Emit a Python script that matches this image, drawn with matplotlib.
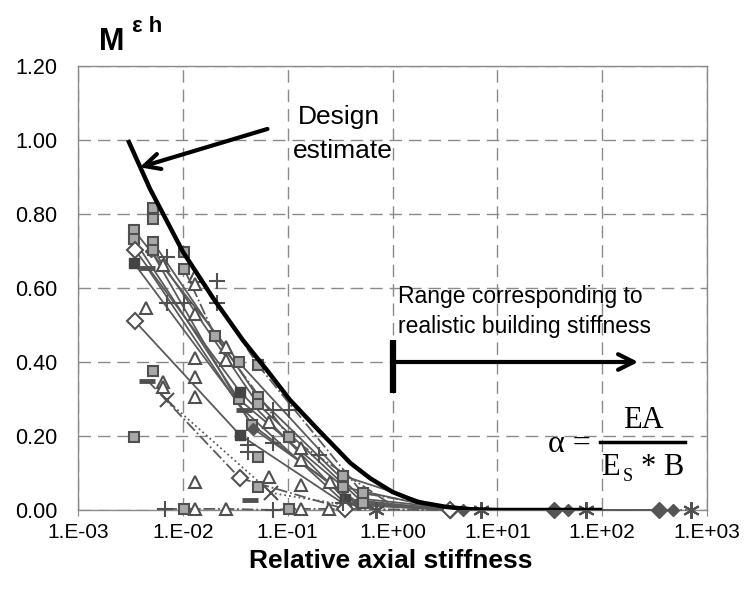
import matplotlib
matplotlib.use('Agg')
import matplotlib.pyplot as plt

plt.rcParams['font.family'] = ['Liberation Sans', 'DejaVu Sans']

# ---------------- data ----------------
x_ticks = [1e-3, 1e-2, 1e-1, 1e0, 1e1, 1e2, 1e3]
x_tick_labels = ["1.E-03", "1.E-02", "1.E-01", "1.E+00", "1.E+01", "1.E+02", "1.E+03"]
y_ticks = [0.0, 0.2, 0.4, 0.6, 0.8, 1.0, 1.2]
y_tick_labels = ["0.00", "0.20", "0.40", "0.60", "0.80", "1.00", "1.20"]

# design estimate curve
design_x = [0.0030, 0.00486, 0.01006, 0.0194, 0.0374, 0.0634, 0.1055, 0.1905, 0.3965, 0.61,
            0.996, 1.72, 3.31, 5.6, 10.0, 100.0]
design_y = [1.000, 0.868, 0.697, 0.573, 0.459, 0.378, 0.297, 0.220, 0.127, 0.086,
            0.049, 0.022, 0.008, 0.002, 0.0, 0.0]

# connected series: x, y, per-point marker code, line style
# codes: S grey square, Q dark square, D open diamond, K dark diamond, k small dark diamond,
#        T open triangle, P plus, X cross, A asterisk, M dash, N none
s1_x = [0.0034, 0.034, 0.34, 3.4];  s1_y = [0.757, 0.40, 0.092, 0.0];  s1_m = "SSSN"
s2_x = [0.0034, 0.034, 0.34, 3.4];  s2_y = [0.732, 0.30, 0.062, 0.0];  s2_m = "SSSN"
s3_x = [0.0035, 0.035, 0.35, 3.5, 35, 350];  s3_y = [0.703, 0.32, 0.03, 0.0, 0.0, 0.0];  s3_m = "DQQKKK"
s4_x = [0.0034, 0.038, 0.35, 3.5];  s4_y = [0.668, 0.27, 0.02, 0.0];  s4_m = "QMQN"
s5_x = [0.0046, 0.046, 0.46, 4.6];  s5_y = [0.654, 0.23, 0.015, 0.0];  s5_m = "MSNN"
s6_x = [0.005, 0.047, 0.47, 4.7, 47, 470];  s6_y = [0.70, 0.22, 0.02, 0.0, 0.0, 0.0];  s6_m = "kkkkkk"
s7_x = [0.0052, 0.052, 0.52, 5.2];  s7_y = [0.724, 0.305, 0.03, 0.0];  s7_m = "SSSN"
s8_x = [0.0052, 0.052, 0.52, 5.2];  s8_y = [0.703, 0.286, 0.02, 0.0];  s8_m = "SSSN"
s9_x = [0.0035, 0.035, 0.35, 3.5];  s9_y = [0.51, 0.203, 0.015, 0.0];  s9_m = "DQQN"
s10_x = [0.0046, 0.035, 0.35, 3.5];  s10_y = [0.35, 0.086, 0.003, 0.0];  s10_m = "MDDD"
s11_x = [0.007, 0.07, 0.7, 7, 70, 700];  s11_y = [0.297, 0.046, 0.0, 0.0, 0.0, 0.0];  s11_m = "XXAAAA"
s12_x = [0.0103, 0.052, 0.52, 5.2];  s12_y = [0.697, 0.392, 0.045, 0.0];  s12_m = "SSSN"
s13_x = [0.0103, 0.0203, 0.103, 1.03, 10];  s13_y = [0.651, 0.47, 0.197, 0.01, 0.0];  s13_m = "SSSNN"
s14_x = [0.0068, 0.0103, 0.013, 0.026, 0.073, 0.103, 0.134, 0.25, 0.5]
s14_y = [0.003, 0.003, 0.003, 0.003, 0.0, 0.003, 0.003, 0.003, 0.0];  s14_m = "PSTTPSTTN"

# scattered (unconnected) points
sq_x = [0.0052, 0.0052, 0.0034, 0.0052, 0.052, 0.052]
sq_y = [0.816, 0.786, 0.197, 0.376, 0.143, 0.062]
tri_x = [0.0045, 0.0065, 0.0065, 0.0065, 0.013, 0.013, 0.013, 0.013, 0.013, 0.013, 0.013,
         0.026, 0.026, 0.066, 0.066, 0.134, 0.134, 0.134, 0.254]
tri_y = [0.546, 0.662, 0.345, 0.332, 0.632, 0.61, 0.53, 0.41, 0.36, 0.305, 0.076,
         0.44, 0.405, 0.238, 0.089, 0.168, 0.135, 0.068, 0.076]
plus_x = [0.0071, 0.0071, 0.0103, 0.021, 0.021, 0.042, 0.042, 0.073, 0.073, 0.103, 0.2, 0.34]
plus_y = [0.684, 0.56, 0.56, 0.62, 0.56, 0.176, 0.157, 0.27, 0.18, 0.27, 0.148, 0.02]
dash_x = [0.044]
dash_y = [0.027]

# ---------------- styles ----------------
LC = '#5a5a5a'
EC = '#505050'
mstyle = {
    'S': dict(marker='s', ms=7, mfc='#a8a8a8', mec=EC, mew=1.5),
    'Q': dict(marker='s', ms=7, mfc='#444444', mec='#444444', mew=1.0),
    'D': dict(marker='D', ms=8, mfc='white', mec=EC, mew=1.5),
    'K': dict(marker='D', ms=8, mfc='#555555', mec='#555555', mew=1.0),
    'k': dict(marker='D', ms=6, mfc='#555555', mec='#555555', mew=1.0),
    'T': dict(marker='^', ms=8, mfc='white', mec=EC, mew=1.5),
    'P': dict(marker='+', ms=12, mec=EC, mew=1.5),
    'X': dict(marker='x', ms=10, mec=EC, mew=1.5),
    'A': dict(marker=(6, 2, 0), ms=12, mec=EC, mew=1.5),
    'M': dict(marker='_', ms=12, mec=EC, mew=3.5),
}

series = [
    (s1_x, s1_y, s1_m, '-'), (s2_x, s2_y, s2_m, '-'), (s3_x, s3_y, s3_m, '-'),
    (s4_x, s4_y, s4_m, '-'), (s5_x, s5_y, s5_m, '-'), (s6_x, s6_y, s6_m, '-'),
    (s7_x, s7_y, s7_m, '-'), (s8_x, s8_y, s8_m, '-'), (s9_x, s9_y, s9_m, '-'),
    (s10_x, s10_y, s10_m, '-.'), (s11_x, s11_y, s11_m, ':'), (s12_x, s12_y, s12_m, '-.'),
    (s13_x, s13_y, s13_m, '-.'), (s14_x, s14_y, s14_m, '-.'),
]

W, H = 747, 598
fig = plt.figure(figsize=(W / 100, H / 100), dpi=100)
ax = fig.add_axes([78 / W, (H - 510) / H, (707 - 78) / W, (510 - 66) / H])

ax.set_xscale('log')
ax.set_xlim(1e-3, 1e3)
ax.set_ylim(0, 1.2)

ax.grid(True, which='major', linestyle=(0, (9, 5)), color='#8a8a8a', lw=1.0)
ax.set_axisbelow(True)
ax.minorticks_off()
for sp in ax.spines.values():
    sp.set_color('#8a8a8a')
    sp.set_linewidth(1.0)

ax.set_xticks(x_ticks)
ax.set_xticklabels(x_tick_labels, fontsize=15)
ax.set_yticks(y_ticks)
ax.set_yticklabels(y_tick_labels, fontsize=15.5)
ax.tick_params(axis='x', length=4, color='#8a8a8a', pad=5)
ax.tick_params(axis='y', length=0, pad=15)

# connected series
for xs, ys, ms, ls in series:
    ax.plot(xs, ys, ls=ls, color=LC, lw=1.3, clip_on=False, zorder=3)
    for xv, yv, c in zip(xs, ys, ms):
        if c == 'N':
            continue
        ax.plot([xv], [yv], ls='none', clip_on=False, zorder=4, **mstyle[c])

# scattered points
for xs, ys, c in [(sq_x, sq_y, 'S'), (tri_x, tri_y, 'T'), (plus_x, plus_y, 'P'), (dash_x, dash_y, 'M')]:
    ax.plot(xs, ys, ls='none', clip_on=False, zorder=4, **mstyle[c])

# design estimate
ax.plot(design_x, design_y, color='black', lw=3.2, zorder=5, solid_capstyle='butt',
        solid_joinstyle='round')

# design arrow
ax.annotate('', xy=(0.00366, 0.924), xytext=(0.068, 1.032),
            arrowprops=dict(arrowstyle='->', lw=3, color='black', mutation_scale=28), zorder=6)
fig.text(339 / W, 1 - 124 / H, "Design", fontsize=19, ha='center', va='baseline')
fig.text(343 / W, 1 - 158 / H, "estimate", fontsize=19, ha='center', va='baseline')

# range arrow
ax.plot([1.0, 1.0], [0.316, 0.46], color='black', lw=4.5, solid_capstyle='butt', zorder=6)
ax.annotate('', xy=(221, 0.40), xytext=(1.0, 0.40),
            arrowprops=dict(arrowstyle='->', lw=3, color='black', mutation_scale=28,
                            shrinkA=0, shrinkB=0), zorder=6)
fig.text(398 / W, 1 - 303 / H, "Range corresponding to", fontsize=16.5, ha='left', va='baseline')
fig.text(398 / W, 1 - 333 / H, "realistic building stiffness", fontsize=16.5, ha='left', va='baseline')

# formula
serif = ['Liberation Serif', 'DejaVu Serif']
fig.text(569 / W, 1 - 452 / H, "\u03b1 =", fontsize=23, family=serif, ha='center', va='baseline')
fig.text(643 / W, 1 - 428 / H, "EA", fontsize=22, family=serif, ha='center', va='baseline')
fig.add_artist(plt.Line2D([600 / W, 685 / W], [1 - 442 / H, 1 - 442 / H], color='black', lw=2.5))
fig.text(601 / W, 1 - 475 / H, "E", fontsize=22, family=serif, ha='left', va='baseline')
fig.text(623 / W, 1 - 481 / H, "S", fontsize=13, family=serif, ha='left', va='baseline')
fig.text(641 / W, 1 - 475 / H, "* B", fontsize=22, family=serif, ha='left', va='baseline')

# axis titles
fig.text(99 / W, 1 - 50 / H, "M", fontsize=22, fontweight='bold', ha='left', va='baseline')
fig.text(132 / W, 1 - 32 / H, "\u03b5 h", fontsize=16, fontweight='bold', ha='left', va='baseline')
fig.text(391 / W, 1 - 568 / H, "Relative axial stiffness", fontsize=19, fontweight='bold',
         ha='center', va='baseline')

fig.savefig('out.png', dpi=100)
